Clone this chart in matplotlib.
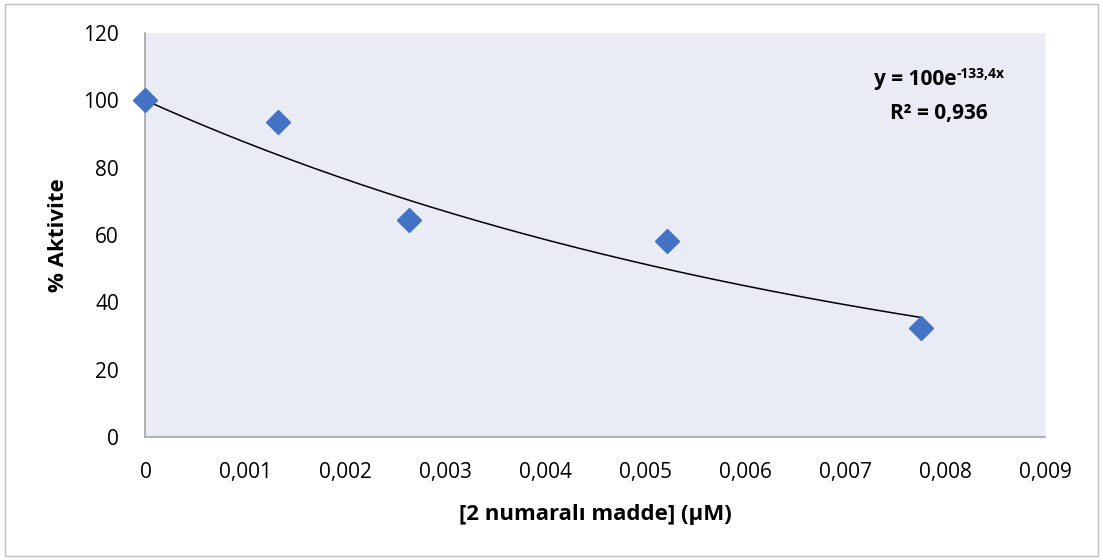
import numpy as np
import matplotlib.pyplot as plt
from matplotlib.patches import Rectangle

conc = [0.0, 0.001323, 0.002636, 0.005222, 0.007757]
activity = [100.0, 93.6, 64.6, 58.1, 32.3]
fit_a = 100.0
fit_b = -133.4
x_ticks = [0, 0.001, 0.002, 0.003, 0.004, 0.005, 0.006, 0.007, 0.008, 0.009]
x_tick_labels = ['0', '0,001', '0,002', '0,003', '0,004', '0,005', '0,006', '0,007', '0,008', '0,009']
y_ticks = [0, 20, 40, 60, 80, 100, 120]

plt.rcParams['font.family'] = ['Open Sans', 'DejaVu Sans']

fig = plt.figure(figsize=(11.03, 5.6), dpi=100)
fig.patches.append(Rectangle((5 / 1103, 4 / 560), 1093 / 1103, 552 / 560, transform=fig.transFigure,
                             fill=False, edgecolor='#BFBFBF', linewidth=1))
ax = fig.add_axes([0.1319, 0.2196, 0.8155, 0.7214])
ax.set_facecolor('#E9EBF5')

xs = np.linspace(0, max(conc), 200)
ax.plot(xs, fit_a * np.exp(fit_b * xs), color='black', linewidth=1.1, zorder=2)
ax.plot(conc, activity, linestyle='none', marker='D', markersize=12.5, color='#4472C4',
        clip_on=False, zorder=3)

ax.set_xlim(0, 0.009)
ax.set_ylim(0, 120)
ax.set_xticks(x_ticks)
ax.set_xticklabels(x_tick_labels)
ax.set_yticks(y_ticks)
ax.tick_params(length=0, labelsize=15, colors='black')
ax.tick_params(axis='x', pad=18)
ax.tick_params(axis='y', pad=19)
for s in ['top', 'right']:
    ax.spines[s].set_visible(False)
for s in ['left', 'bottom']:
    ax.spines[s].set_color('#A6A6A6')
    ax.spines[s].set_linewidth(1.2)

ax.set_xlabel('[2 numaralı madde] (µM)', fontsize=16, fontweight='bold', labelpad=15)
ax.set_ylabel('% Aktivite', fontsize=16, fontweight='bold', labelpad=10)

# trendline equation: main part + superscript drawn as two texts
r = fig.canvas.get_renderer()
t1 = fig.text(0, 1 - 80 / 560, 'y = 100e', ha='left', va='center', fontsize=15, fontweight='bold')
t2 = fig.text(0, 1 - 74 / 560, '-133,4x', ha='left', va='center', fontsize=10, fontweight='bold')
w1 = t1.get_window_extent(r).width
w2 = t2.get_window_extent(r).width
x0 = 939 - (w1 + w2) / 2
t1.set_x(x0 / 1103)
t2.set_x((x0 + w1) / 1103)
fig.text(939 / 1103, 1 - 114 / 560, 'R² = 0,936', ha='center', va='center', fontsize=15, fontweight='bold')

fig.savefig('out.png', dpi=100)
